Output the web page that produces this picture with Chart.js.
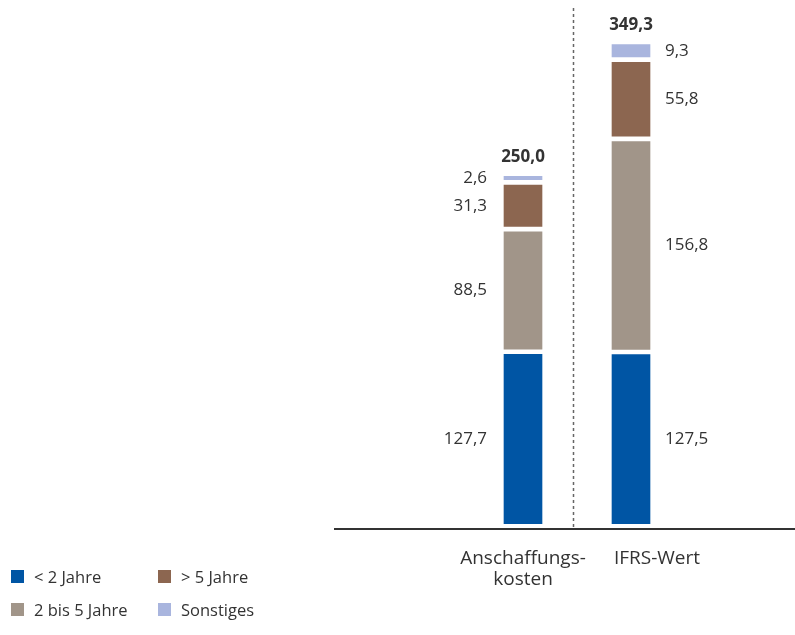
<!DOCTYPE html>
<html>
<head>
<meta charset="utf-8">
<script src="https://cdn.jsdelivr.net/npm/chart.js@4/dist/chart.umd.min.js"></script>
<style>
  body { margin: 0; background: #fff; font-family: "Open Sans", sans-serif; }
  #wrap { position: relative; width: 795px; height: 635px; }
  #legend .item { position: absolute; display: flex; align-items: center; height: 13px; font-size: 16.5px; color: #333; white-space: nowrap; }
  #legend .box { width: 13px; height: 13px; margin-right: 10px; }
</style>
</head>
<body>
<div id="wrap">
  <canvas id="chart" width="795" height="635"></canvas>
  <div id="legend"></div>
</div>
<script>
// categories (x axis)
var categories = [["Anschaffungs-", "kosten"], ["IFRS-Wert"]];

// series, bottom to top of each stack
var seriesNames = ["< 2 Jahre", "2 bis 5 Jahre", "> 5 Jahre", "Sonstiges"];
var unter2Jahre = [127.7, 127.5];
var zweiBis5Jahre = [88.5, 156.8];
var ueber5Jahre = [31.3, 55.8];
var sonstiges = [2.6, 9.3];
var totals = [250.0, 349.3];

var seriesValues = [unter2Jahre, zweiBis5Jahre, ueber5Jahre, sonstiges];
var colors = ["#0055a4", "#a19589", "#8c6650", "#a9b5de"];
var textColor = "#333333";
var gap = 4; // white gap between segments, in value units
var labelSide = ["left", "right"];
var labelShift = [0, 26];
var dividerAt = 0.46;

function fmt(v) {
  return v.toFixed(1).replace(".", ",");
}

Chart.defaults.font.family = "'Open Sans', sans-serif";
Chart.defaults.color = textColor;

var datasets = seriesValues.map(function (vals, k) {
  return {
    label: seriesNames[k],
    backgroundColor: colors[k],
    data: vals.map(function (v, j) {
      var start = (k + 1) * gap;
      for (var i = 0; i < k; i++) start += seriesValues[i][j];
      return { x: j, y: [start, start + v] };
    }),
  };
});

var dividerPlugin = {
  id: "divider",
  beforeDatasetsDraw: function (chart) {
    var ctx = chart.ctx;
    var x = Math.round(chart.scales.x.getPixelForValue(dividerAt)) + 0.5;
    ctx.save();
    ctx.strokeStyle = "#666";
    ctx.lineWidth = 1.5;
    ctx.setLineDash([3, 3]);
    ctx.beginPath();
    ctx.moveTo(x, chart.chartArea.top);
    ctx.lineTo(x, chart.chartArea.bottom);
    ctx.stroke();
    ctx.restore();
  },
};

var labelPlugin = {
  id: "values",
  afterDatasetsDraw: function (chart) {
    var ctx = chart.ctx;
    ctx.save();
    ctx.fillStyle = textColor;
    ctx.textBaseline = "middle";
    ctx.font = "17px 'Open Sans'";
    chart.data.datasets.forEach(function (ds, i) {
      chart.getDatasetMeta(i).data.forEach(function (bar, j) {
        var yMid = (bar.y + bar.base) / 2;
        if (labelSide[j] === "left") {
          ctx.textAlign = "right";
          ctx.fillText(fmt(seriesValues[i][j]), bar.x - bar.width / 2 - 17, yMid);
        } else {
          ctx.textAlign = "left";
          ctx.fillText(fmt(seriesValues[i][j]), bar.x + bar.width / 2 + 15, yMid);
        }
      });
    });
    ctx.font = "bold 17px 'Open Sans'";
    ctx.textAlign = "center";
    var topBars = chart.getDatasetMeta(chart.data.datasets.length - 1).data;
    topBars.forEach(function (bar, j) {
      ctx.fillText(fmt(totals[j]), bar.x, bar.y - 19);
    });
    // category labels
    ctx.font = "19px 'Open Sans'";
    categories.forEach(function (lines, j) {
      var x = chart.scales.x.getPixelForValue(j) + labelShift[j];
      lines.forEach(function (line, n) {
        ctx.fillText(line, x, 559 + n * 21);
      });
    });
    ctx.restore();
  },
};

var chart = new Chart(document.getElementById("chart"), {
  type: "bar",
  data: { datasets: datasets },
  options: {
    responsive: false,
    animation: false,
    layout: { padding: { left: 335, right: 0, top: 8, bottom: 0 } },
    datasets: { bar: { grouped: false, barThickness: 38, borderWidth: 0 } },
    plugins: { legend: { display: false }, tooltip: { enabled: false } },
    scales: {
      x: {
        type: "linear",
        offset: false,
        min: -1.7407,
        max: 2.5185,
        bounds: "data",
        grid: { display: false },
        border: { display: true, color: "#333", width: 2 },
        ticks: { display: false },
        afterFit: function (scale) { scale.height = 106; },
      },
      y: {
        min: 0,
        max: 393,
        display: false,
      },
    },
  },
  plugins: [dividerPlugin, labelPlugin],
});

// legend, two columns
var legendPos = [[11, 570], [11, 603], [158, 570], [158, 603]];
var legendEl = document.getElementById("legend");
chart.data.datasets.forEach(function (ds, k) {
  var item = document.createElement("div");
  item.className = "item";
  item.style.left = legendPos[k][0] + "px";
  item.style.top = legendPos[k][1] + "px";
  var box = document.createElement("span");
  box.className = "box";
  box.style.background = ds.backgroundColor;
  item.appendChild(box);
  item.appendChild(document.createTextNode(ds.label));
  legendEl.appendChild(item);
});
</script>
</body>
</html>
